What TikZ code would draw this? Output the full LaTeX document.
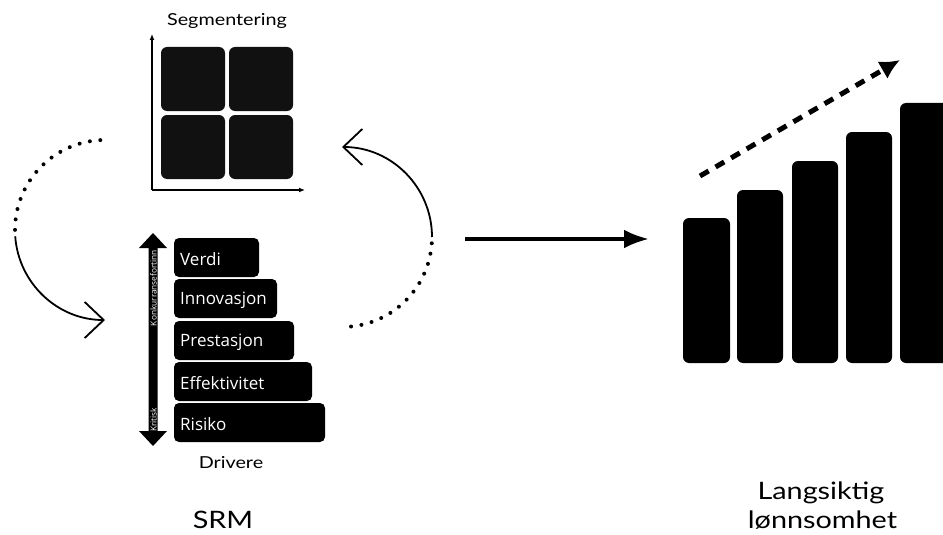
\documentclass[tikz,border=0pt]{standalone}
\usepackage{fontspec}
\setmainfont{Lato}[FakeStretch=1.2]
\newfontfamily\boxfont{Open Sans}
\usetikzlibrary{arrows.meta}
\definecolor{tile}{HTML}{111111}
\tikzset{
  tilebox/.style={fill=tile, rounded corners=6pt},
  drvbox/.style={fill=black, rounded corners=5pt},
  drvtext/.style={text=white, anchor=west, font=\boxfont\fontsize{17}{20}\selectfont, inner sep=0pt},
  bar/.style={fill=black, rounded corners=6pt},
  label/.style={font=\fontsize{16.5}{19}\selectfont, inner sep=0pt},
  biglabel/.style={font=\fontsize{24}{31}\selectfont, inner sep=0pt, align=center},
  tinytext/.style={rotate=90, text=white, font=\boxfont\fontsize{8.3}{9}\selectfont, inner sep=0pt},
  dotarc/.style={line width=4pt, line cap=round, dash pattern=on 0pt off 10.5pt},
  solidarc/.style={line width=1.8pt, -{Straight Barb[length=19pt,width=36pt,line width=1.8pt]}},
}
\begin{document}
\begin{tikzpicture}[x=1pt,y=-1pt]
\useasboundingbox (0,0) rectangle (943,535);
\begin{scope}
\clip (0,0) rectangle (943,535);
% Segmentering grid
\node[label] (seg) at (227,21) {Segmentering};
\coordinate (origin) at (152,190);
\coordinate (ytop) at (152,34);
\coordinate (xend) at (305,190);
\draw[line width=1.4pt, -{Latex[length=6pt,width=5pt]}] (origin) -- (ytop);
\draw[line width=1.4pt, -{Latex[length=6pt,width=5pt]}] (origin) -- (xend);
\fill[tilebox] (161,47) rectangle (225,111);
\fill[tilebox] (229,47) rectangle (293,111);
\fill[tilebox] (161,115) rectangle (225,179);
\fill[tilebox] (229,115) rectangle (293,179);
% Drivers
\fill[drvbox] (174,238) rectangle (259,277);
\fill[drvbox] (174,279) rectangle (277,318);
\fill[drvbox] (174,321) rectangle (294,360);
\fill[drvbox] (174,362) rectangle (312,401);
\fill[drvbox] (174,403) rectangle (325,442);
\node[drvtext] (verdi) at (180,259) {Verdi};
\node[drvtext] (innov) at (180,300) {Innovasjon};
\node[drvtext] (prest) at (180,342) {Prestasjon};
\node[drvtext] (effek) at (180,383) {Effektivitet};
\node[drvtext] (risiko) at (180,424) {Risiko};
% double arrow
\fill[black] (153,233) -- (167,248) -- (157.5,248) -- (157.5,431) -- (167,431) -- (153,446)
  -- (139,431) -- (148.5,431) -- (148.5,248) -- (139,248) -- cycle;
\node[tinytext] (konk) at (153.5,288) {Konkurransefortinn};
\node[tinytext] (krit) at (153.5,420) {Kritisk};
\node[label] (drv) at (231,463) {Drivere};
\node[biglabel] (srm) at (223,520) {SRM};
% cycle arrows
\draw[dotarc] (105,230) ++(267:90) arc[start angle=267, end angle=180, radius=90];
\draw[solidarc] (105,230) ++(176:90) arc[start angle=176, end angle=90, radius=90];
\draw[dotarc] (342,237) ++(4:90) arc[start angle=4, end angle=88, radius=90];
\draw[solidarc] (342,237) ++(0:90) arc[start angle=0, end angle=-90, radius=90];
% middle arrow
\coordinate (ma) at (465,239);
\coordinate (mb) at (649,239);
\draw[line width=4pt, -{Latex[length=25pt,width=19pt]}] (ma) -- (mb);
% bars
\fill[bar] (683,218) rectangle (730,363);
\fill[bar] (737,190) rectangle (783,363);
\fill[bar] (792,161) rectangle (838,363);
\fill[bar] (846,132) rectangle (892,363);
\fill[bar] (900,103) rectangle (955,363);
\coordinate (da) at (700,176);
\coordinate (db) at (900,60);
\draw[line width=5pt, dash pattern=on 10pt off 8pt, -{Latex[length=20pt,width=20pt]}] (da) -- (db);
\node[biglabel] (lang) at (821,506) {Langsiktig\\[-2pt]\hspace*{3pt}lønnsomhet};
\end{scope}
\end{tikzpicture}
\end{document}
